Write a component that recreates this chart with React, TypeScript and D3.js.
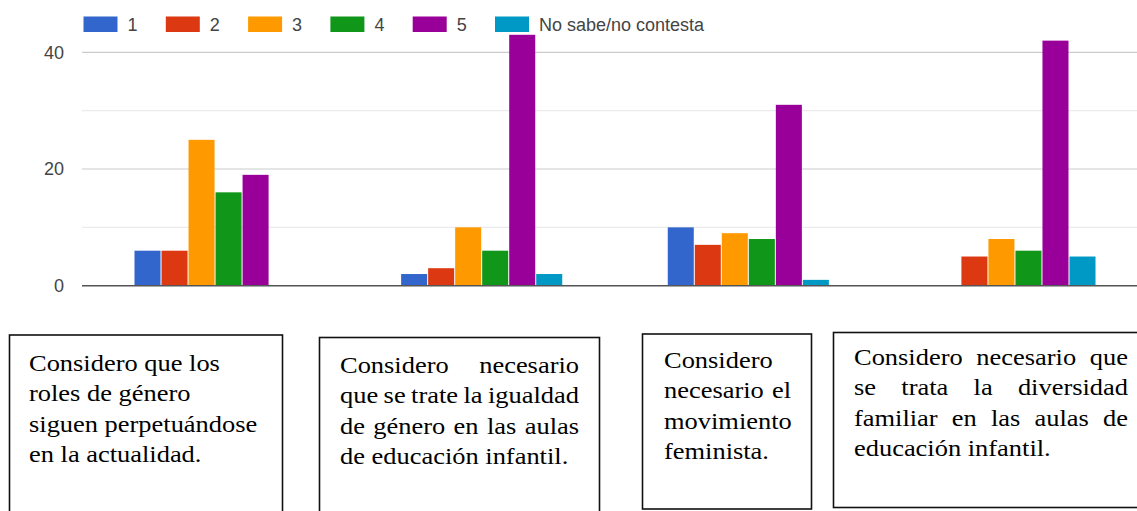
import * as d3 from "d3";
import { useEffect, useRef } from "react";

// survey answers, one value per statement
const categories = ["roles", "igualdad", "feminismo", "diversidad"];
const seriesNames = ["1", "2", "3", "4", "5", "No sabe/no contesta"];
const answers1 = [6, 2, 10, 0];
const answers2 = [6, 3, 7, 5];
const answers3 = [25, 10, 9, 8];
const answers4 = [16, 6, 8, 6];
const answers5 = [19, 43, 31, 42];
const answersNs = [0, 2, 1, 5];
const yTicks = [0, 10, 20, 30, 40];
const yLabels = [0, 20, 40];
const colors = ["#3366cc", "#dc3912", "#ff9900", "#109618", "#990099", "#0099c6"];

// statement boxes under the chart
const boxLines = [
  ["Considero que los", "roles de género", "siguen perpetuándose", "en la actualidad."],
  ["Considero necesario", "que se trate la igualdad", "de género en las aulas", "de educación infantil."],
  ["Considero", "necesario el", "movimiento", "feminista."],
  ["Considero necesario que", "se trata la diversidad", "familiar en las aulas de", "educación infantil."],
];
const boxJustify = [
  [false, false, false, false],
  [true, true, true, false],
  [false, true, false, false],
  [true, true, true, false],
];

const W = 1137;
const H = 511;

const boxes = [
  { x: 9.5, y: 335, w: 273, h: 210, tx: 29, tr: 270, base: 371 },
  { x: 319.5, y: 337.5, w: 280, h: 210, tx: 340, tr: 579, base: 373 },
  { x: 642.5, y: 334, w: 169, h: 175, tx: 664, tr: 791, base: 368 },
  { x: 833.5, y: 332.5, w: 310, h: 175, tx: 854, tr: 1128, base: 365 },
];

const App = () => {
  const ref = useRef<SVGSVGElement | null>(null);

  useEffect(() => {
    const svg = d3.select(ref.current);
    svg.selectAll("*").remove();

    const allSeries = [answers1, answers2, answers3, answers4, answers5, answersNs];

    const x0 = d3
      .scaleBand()
      .domain(categories)
      .range([82, 1148])
      .paddingInner(0.392)
      .paddingOuter(0.195);
    const x1 = d3.scaleBand().domain(seriesNames).range([0, x0.bandwidth()]);
    const y = d3.scaleLinear().domain([0, 40]).range([285.7, 52.3]);

    // gridlines
    svg
      .append("g")
      .selectAll("line")
      .data(yTicks.filter((t) => t > 0))
      .join("line")
      .attr("x1", 82)
      .attr("x2", W)
      .attr("y1", (d) => y(d))
      .attr("y2", (d) => y(d))
      .attr("stroke", (d) => (d % 20 === 0 ? "#cccccc" : "#ebebeb"))
      .attr("stroke-width", 1.2);

    // y labels
    svg
      .append("g")
      .selectAll("text")
      .data(yLabels)
      .join("text")
      .attr("x", 64)
      .attr("y", (d) => y(d))
      .attr("dy", "0.36em")
      .attr("text-anchor", "end")
      .attr("font-family", "Liberation Sans, Arial, sans-serif")
      .attr("font-size", 18)
      .attr("fill", "#444")
      .text((d) => d);

    // bars
    const groups = svg
      .append("g")
      .selectAll("g")
      .data(allSeries)
      .join("g")
      .attr("fill", (_, i) => colors[i]);

    groups
      .selectAll("rect")
      .data((vals, si) => vals.map((v, ci) => ({ v, ci, si })))
      .join("rect")
      .filter((d) => d.v > 0)
      .attr("x", (d) => x0(categories[d.ci])! + x1(seriesNames[d.si])! + 0.5)
      .attr("width", x1.bandwidth() - 1)
      .attr("y", (d) => y(d.v))
      .attr("height", (d) => y(0) - y(d.v));

    // baseline
    svg
      .append("line")
      .attr("x1", 82)
      .attr("x2", W)
      .attr("y1", y(0))
      .attr("y2", y(0))
      .attr("stroke", "#555")
      .attr("stroke-width", 1.5);

    // legend
    const legend = svg
      .append("g")
      .selectAll("g")
      .data(seriesNames)
      .join("g")
      .attr("transform", (_, i) => `translate(${83.5 + i * 82.3},0)`);
    legend
      .append("rect")
      .attr("y", 16.5)
      .attr("width", 34)
      .attr("height", 15.5)
      .attr("fill", (_, i) => colors[i]);
    legend
      .append("text")
      .attr("x", 44)
      .attr("y", 31)
      .attr("font-family", "Liberation Sans, Arial, sans-serif")
      .attr("font-size", 18)
      .attr("fill", "#444")
      .text((d) => d);

    // statement boxes
    const sx = 1.15;
    const fontSize = 23;
    const lineGap = 30.5;
    boxes.forEach((b, bi) => {
      svg
        .append("rect")
        .attr("x", b.x)
        .attr("y", b.y)
        .attr("width", b.w)
        .attr("height", b.h)
        .attr("fill", "none")
        .attr("stroke", "#111")
        .attr("stroke-width", 1.6);

      const g = svg.append("g").attr("transform", `translate(${b.tx},0) scale(${sx},1)`);
      boxLines[bi].forEach((line, li) => {
        const words = line.split(" ");
        const texts = words.map((w) =>
          g
            .append("text")
            .attr("y", b.base + li * lineGap)
            .attr("font-family", "Liberation Serif, Times New Roman, serif")
            .attr("font-size", fontSize)
            .attr("fill", "#000")
            .text(w)
        );
        const widths = texts.map((t) => (t.node() as SVGTextElement).getComputedTextLength());
        const total = d3.sum(widths);
        const target = (b.tr - b.tx) / sx;
        const gap =
          boxJustify[bi][li] && words.length > 1
            ? Math.max((target - total) / (words.length - 1), 2)
            : fontSize * 0.25;
        let cx = 0;
        texts.forEach((t, i) => {
          t.attr("x", cx);
          cx += widths[i] + gap;
        });
      });
    });
  }, []);

  return (
    <svg
      ref={ref}
      width={W}
      height={H}
      style={{ position: "absolute", left: 0, top: 0, background: "#fff", overflow: "hidden" }}
    />
  );
};

export default App;
